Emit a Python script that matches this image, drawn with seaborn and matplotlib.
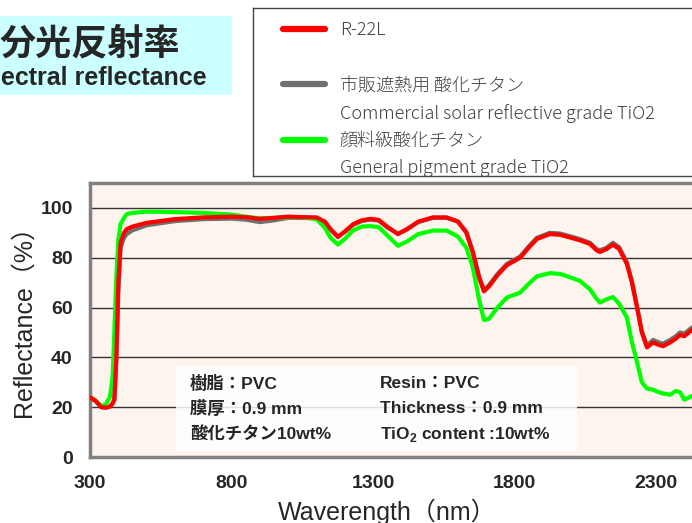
import pandas as pd
import seaborn as sns
import matplotlib.pyplot as plt
from matplotlib.lines import Line2D
from matplotlib.patches import Rectangle

# 波長 (nm) と反射率 (%) - グラフから読み取り
wavelength = [300, 320, 340, 355, 370, 380, 386, 393, 400, 408, 420, 430, 450, 500,
              600, 700, 800, 850, 900, 950, 1000, 1050, 1100, 1130, 1150, 1176, 1200,
              1230, 1260, 1290, 1320, 1350, 1388, 1420, 1460, 1512, 1560, 1600, 1630,
              1653, 1675, 1692, 1710, 1740, 1773, 1820, 1850, 1879, 1925, 1961, 2000,
              2031, 2067, 2090, 2102, 2125, 2148, 2170, 2197, 2215, 2233, 2250, 2268,
              2290, 2310, 2325, 2350, 2370, 2385, 2400, 2427, 2460, 2500]

r22l = [24, 22.5, 20, 19.8, 20.2, 21.5, 23, 40, 70, 86, 90, 91.5, 92.5, 94,
        95.5, 96.2, 96.5, 96.3, 95.6, 96, 96.5, 96.3, 96.2, 94.5, 91.5, 88.3, 90.5,
        93.5, 95, 95.6, 95.2, 92.5, 89.5, 91.5, 94.5, 96.2, 96.2, 94.5, 90,
        82, 72, 66.5, 68.5, 73, 77, 80, 84, 87.5, 89.5, 89.2, 88,
        87, 85.5, 83, 82.3, 83.5, 85.2, 83.5, 77.5, 70, 60, 50, 44,
        46, 45, 44.5, 46, 47.5, 49, 48.5, 51, 52, 53]

commercial = [24, 22.5, 20, 19.8, 20.2, 21.5, 23, 38, 66, 84, 88, 89.5, 91, 93,
              94.7, 95.5, 95.7, 95.3, 94.3, 95, 96, 96, 95.9, 94.2, 91.2, 88.6, 90.3,
              93.2, 94.7, 95.3, 94.9, 92.2, 89.6, 91.3, 94.3, 96, 96, 94.6, 90.4,
              82.5, 72.5, 67, 69, 73.5, 77.5, 80.5, 84.5, 88, 90, 89.7, 88.5,
              87.5, 86, 83.5, 83, 84, 86, 84.2, 78.2, 70.6, 60.5, 50.5, 44.8,
              47, 46, 45.5, 47, 48.5, 50, 49.5, 52, 53, 54]

pigment = [24, 22.5, 20.5, 21, 24, 32, 50, 72, 87, 93.5, 96, 97.5, 98, 98.5,
           98.3, 98, 97.3, 96.5, 95.8, 96, 96.3, 96.2, 95.5, 92, 88, 85.3, 87.5,
           91, 92.5, 92.7, 92.3, 89, 84.8, 86.5, 89.5, 90.9, 90.9, 88.5, 84,
           76, 63, 55, 55.5, 60, 64, 66, 69.5, 72.5, 73.8, 73.5, 72,
           70.7, 67.3, 63.5, 62, 63.3, 64.2, 61.5, 56, 46, 38, 30, 27.5,
           27, 26, 25.5, 25, 26.5, 26, 23, 24.5, 24, 24]

names = ["R-22L", "市販遮熱用 酸化チタン", "顔料級酸化チタン"]
english = ["", "Commercial solar reflective grade TiO2", "General pigment grade TiO2"]
colores = {"R-22L": "#FF0000", "市販遮熱用 酸化チタン": "#707070", "顔料級酸化チタン": "#00FF00"}

df = pd.DataFrame({"wl": wavelength, names[0]: r22l, names[1]: commercial, names[2]: pigment})
df = df.melt(id_vars="wl", var_name="sample", value_name="R")

sns.set_theme(style="white")
plt.rcParams['font.family'] = ['Liberation Sans', 'Noto Sans CJK JP', 'DejaVu Sans']
plt.rcParams['mathtext.fontset'] = 'custom'
plt.rcParams['mathtext.rm'] = 'Liberation Sans:bold'
plt.rcParams['mathtext.bf'] = 'Liberation Sans:bold'

W, H = 692, 523
fig = plt.figure(figsize=(W / 100, H / 100), dpi=100)

# グラフ本体
ax = fig.add_axes([90 / W, 1 - 457 / H, 622.6 / W, 274 / H])
ax.set_facecolor("#FDF4EE")
sns.lineplot(data=df, x="wl", y="R", hue="sample",
             hue_order=[names[1], names[2], names[0]], palette=colores,
             linewidth=3, legend=False, ax=ax, zorder=3)
ax.set_xlim(300, 2500)
ax.set_ylim(0, 110)
ax.set_xticks([300, 800, 1300, 1800, 2300])
ax.set_yticks([0, 20, 40, 60, 80, 100])
for y in [20, 40, 60, 80, 100]:
    ax.axhline(y, color="#333333", linewidth=1, zorder=1)
for s in ax.spines.values():
    s.set_color("#808080")
    s.set_linewidth(2.5)
ax.tick_params(axis="both", length=0, labelsize=14)
ax.tick_params(axis="x", pad=13)
ax.tick_params(axis="y", pad=12.5)
for lab in ax.get_xticklabels() + ax.get_yticklabels():
    lab.set_fontweight("bold")
ax.set_xlabel("Waverength（nm）", fontsize=18)
ax.set_ylabel("Reflectance（%）", fontsize=18)
ax.xaxis.set_label_coords(0.477, -0.15)
ax.yaxis.set_label_coords(-0.087, 0.52)

# 試験条件の枠
ax.add_patch(Rectangle((604, 2.4), 1417, 34.3, facecolor="white", alpha=0.85,
                       edgecolor="none", zorder=2))
izq = ["樹脂：PVC", "膜厚：0.9 mm", "酸化チタン10wt%"]
der = ["Resin：PVC", "Thickness：0.9 mm", r"TiO$_2$ content :10wt%"]
for i, (a, b) in enumerate(zip(izq, der)):
    yy = 29.6 - i * 10.2
    ax.text(653, yy, a, fontsize=12.5, fontweight="bold", va="center", zorder=4)
    ax.text(1325, yy, b, fontsize=12.5, fontweight="bold", va="center", zorder=4)

# タイトル
fig.add_artist(Rectangle((0, 1 - 95 / H), 232 / W, 79 / H, transform=fig.transFigure,
                         facecolor="#CCFFFF", edgecolor="none"))
fig.text(0 / W, 1 - 44 / H, "分光反射率", fontsize=26, fontweight="bold",
         va="center", ha="left", family=["Noto Sans CJK JP"])
fig.text(207 / W, 1 - 85 / H, "Spectral reflectance", fontsize=18, fontweight="bold",
         va="baseline", ha="right")

# 凡例
lax = fig.add_axes([253 / W, 1 - 176 / H, 0.7, 168 / H])
lax.set_xticks([])
lax.set_yticks([])
lax.set_facecolor("white")
for s in lax.spines.values():
    s.set_color("#444444")
    s.set_linewidth(1)
handles, labels = [], []
for n, e in zip(names, english):
    handles.append(Line2D([], [], color=colores[n], linewidth=4.5, solid_capstyle="round"))
    labels.append(n)
    handles.append(Line2D([], [], color="none"))
    labels.append(e if e else " ")
leg = lax.legend(handles, labels, loc="upper left", bbox_to_anchor=(30 / (0.7 * W), 0.92),
                 frameon=False, handlelength=2.3, handletextpad=0.85,
                 labelspacing=0.52, borderpad=0, borderaxespad=0,
                 prop={"family": ["Noto Sans CJK JP"], "size": 13, "weight": "light"})
for t in leg.get_texts():
    t.set_color("#404040")

fig.savefig("out.png", dpi=100)
